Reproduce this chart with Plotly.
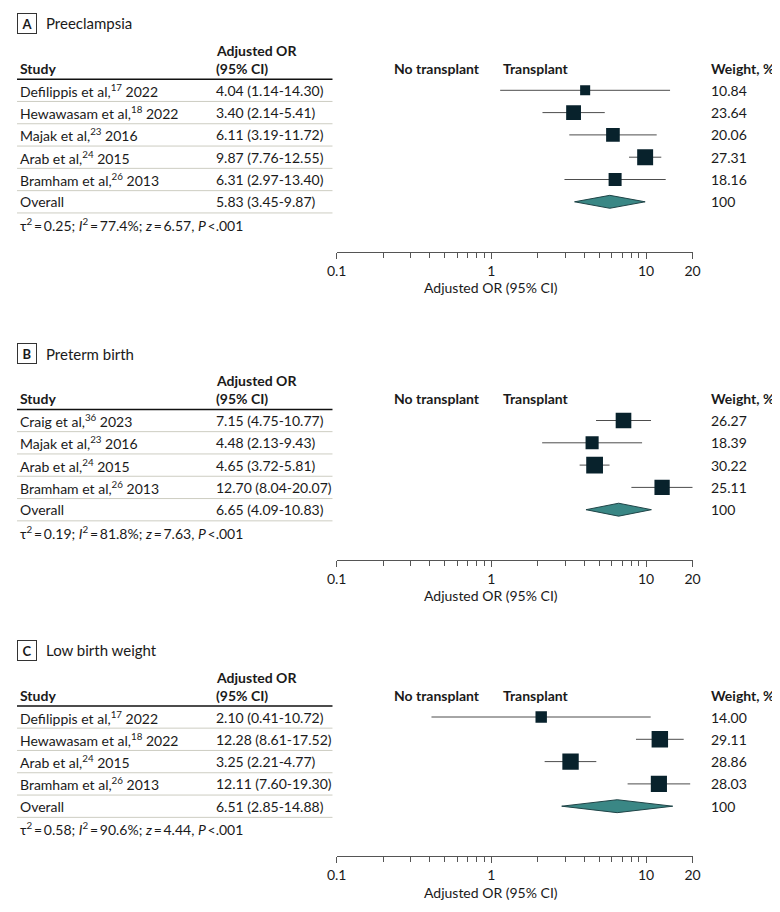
import math
import plotly.graph_objects as go

# ---------------- data ----------------
A_STUDIES = ["Defilippis et al,<sup>17</sup> 2022", "Hewawasam et al,<sup>18</sup> 2022",
             "Majak et al,<sup>23</sup> 2016", "Arab et al,<sup>24</sup> 2015",
             "Bramham et al,<sup>26</sup> 2013"]
A_OR = [4.04, 3.40, 6.11, 9.87, 6.31]
A_LO = [1.14, 2.14, 3.19, 7.76, 2.97]
A_HI = [14.30, 5.41, 11.72, 12.55, 13.40]
A_WEIGHT = [10.84, 23.64, 20.06, 27.31, 18.16]
A_OVERALL = [5.83, 3.45, 9.87]
A_STATS = "τ<sup>2</sup>\u2009=\u20090.25; <i>I</i><sup>2</sup>\u2009=\u200977.4%; <i>z</i>\u2009=\u20096.57, <i>P</i>\u2009&lt;.001"

B_STUDIES = ["Craig et al,<sup>36</sup> 2023", "Majak et al,<sup>23</sup> 2016",
             "Arab et al,<sup>24</sup> 2015", "Bramham et al,<sup>26</sup> 2013"]
B_OR = [7.15, 4.48, 4.65, 12.70]
B_LO = [4.75, 2.13, 3.72, 8.04]
B_HI = [10.77, 9.43, 5.81, 20.07]
B_WEIGHT = [26.27, 18.39, 30.22, 25.11]
B_OVERALL = [6.65, 4.09, 10.83]
B_STATS = "τ<sup>2</sup>\u2009=\u20090.19; <i>I</i><sup>2</sup>\u2009=\u200981.8%; <i>z</i>\u2009=\u20097.63, <i>P</i>\u2009&lt;.001"

C_STUDIES = ["Defilippis et al,<sup>17</sup> 2022", "Hewawasam et al,<sup>18</sup> 2022",
             "Arab et al,<sup>24</sup> 2015", "Bramham et al,<sup>26</sup> 2013"]
C_OR = [2.10, 12.28, 3.25, 12.11]
C_LO = [0.41, 8.61, 2.21, 7.60]
C_HI = [10.72, 17.52, 4.77, 19.30]
C_WEIGHT = [14.00, 29.11, 28.86, 28.03]
C_OVERALL = [6.51, 2.85, 14.88]
C_STATS = "τ<sup>2</sup>\u2009=\u20090.58; <i>I</i><sup>2</sup>\u2009=\u200990.6%; <i>z</i>\u2009=\u20094.44, <i>P</i>\u2009&lt;.001"

PANELS = [
    dict(letter="A", title="Preeclampsia", studies=A_STUDIES, ors=A_OR, lo=A_LO, hi=A_HI,
         w=A_WEIGHT, overall=A_OVERALL, stats=A_STATS, first=90.3),
    dict(letter="B", title="Preterm birth", studies=B_STUDIES, ors=B_OR, lo=B_LO, hi=B_HI,
         w=B_WEIGHT, overall=B_OVERALL, stats=B_STATS, first=420.5),
    dict(letter="C", title="Low birth weight", studies=C_STUDIES, ors=C_OR, lo=C_LO, hi=C_HI,
         w=C_WEIGHT, overall=C_OVERALL, stats=C_STATS, first=717.0),
]

MAJOR_TICKS = [0.1, 1, 10, 20]
MAJOR_LABELS = ["0.1", "1", "10", "20"]
MINOR_TICKS = [0.2, 0.3, 0.4, 0.5, 0.6, 0.7, 0.8, 0.9, 2, 3, 4, 5, 6, 7, 8, 9]

# ---------------- layout constants ----------------
OFF = 8                      # default page margin of the html body
W, H = 780 - OFF, 912 - OFF
ROW = 22.3
X0_PX, X1_PX = 334.3, 698.7
FONT = "Lato"
TXT = "#1a1a1a"
FS = 14

COL_STUDY, COL_OR, COL_NO, COL_TR, COL_W = 8, 209, 483, 503, 715
TABLE_L, TABLE_R = 7, 330


def px(x):
    return (x - OFF) / W


def py(y):
    return 1 - (y - OFF) / H


fig = go.Figure()
annotations = []
shapes = []
layout_axes = {}

for k, p in enumerate(PANELS, start=1):
    xa = "x" if k == 1 else f"x{k}"
    ya = "y" if k == 1 else f"y{k}"
    xkey = "xaxis" if k == 1 else f"xaxis{k}"
    ykey = "yaxis" if k == 1 else f"yaxis{k}"
    n = len(p["studies"])
    first = p["first"]
    axis_px = first + n * ROW + 50
    top_px = first - 28
    rows = list(range(n))

    layout_axes[ykey] = dict(
        domain=[py(axis_px), py(top_px)],
        range=[(axis_px - first) / ROW, -(first - top_px) / ROW],
        showticklabels=False, showline=False, showgrid=False, zeroline=False,
        ticks="", fixedrange=True, anchor=xa,
    )
    layout_axes[xkey] = dict(
        domain=[px(X0_PX), px(X1_PX)], type="log",
        range=[math.log10(0.1), math.log10(20)],
        anchor=ya, side="bottom", showline=True, linecolor="#555", linewidth=1,
        showgrid=False, zeroline=False,
        tickmode="array", tickvals=MAJOR_TICKS, ticktext=MAJOR_LABELS,
        ticks="outside", ticklen=6, tickcolor="#555", tickwidth=1,
        tickfont=dict(family=FONT, size=FS, color=TXT),
        minor=dict(tickvals=MINOR_TICKS, ticks="outside", ticklen=5,
                   tickcolor="#555", tickwidth=1, showgrid=False),
        fixedrange=True,
    )

    # CI lines
    cx, cy = [], []
    for i in rows:
        cx += [p["lo"][i], p["hi"][i], None]
        cy += [i, i, None]
    fig.add_trace(go.Scatter(x=cx, y=cy, mode="lines", xaxis=xa, yaxis=ya,
                             line=dict(color="#4d4d4d", width=1), hoverinfo="skip",
                             showlegend=False))
    # squares
    fig.add_trace(go.Scatter(x=p["ors"], y=rows, mode="markers", xaxis=xa, yaxis=ya,
                             marker=dict(symbol="square", color="#08222c", opacity=1,
                                         size=[3.05 * math.sqrt(w) for w in p["w"]],
                                         line=dict(width=0)),
                             showlegend=False))
    # diamond
    est, lo, hi = p["overall"]
    fig.add_trace(go.Scatter(x=[lo, est, hi, est, lo], y=[n, n - 0.29, n, n + 0.29, n],
                             mode="lines", fill="toself", fillcolor="#3a8785",
                             line=dict(color="#1f4447", width=1), xaxis=xa, yaxis=ya,
                             hoverinfo="skip", showlegend=False))

    # dotted null line
    shapes.append(dict(type="line", xref=xa, yref=f"{ya} domain", x0=0, x1=0, y0=0, y1=1,
                       line=dict(color="#777", width=1, dash="dot")))

    # panel title
    annotations.append(dict(xref="paper", yref="paper", x=px(17), y=py(first - 67),
                            text=f"<b>{p['letter']}</b>", showarrow=False,
                            font=dict(family=FONT, size=13, color=TXT),
                            bordercolor="#333", borderwidth=1, borderpad=2,
                            width=14, height=15, xanchor="center", yanchor="middle"))
    annotations.append(dict(xref="paper", yref="paper", x=px(35), y=py(first - 67),
                            text=p["title"], showarrow=False, xanchor="left", yanchor="middle",
                            font=dict(family=FONT, size=15, color=TXT)))
    # headers
    hdr = dict(family=FONT, size=FS, color=TXT)
    annotations += [
        dict(xref="paper", yref="paper", x=px(COL_OR), y=py(first - 40), text="<b>Adjusted OR</b>",
             showarrow=False, xanchor="left", yanchor="middle", font=hdr),
        dict(xref="paper", yref="paper", x=px(COL_OR), y=py(first - 22), text="<b>(95% CI)</b>",
             showarrow=False, xanchor="left", yanchor="middle", font=hdr),
        dict(xref="paper", yref="paper", x=px(COL_STUDY), y=py(first - 22), text="<b>Study</b>",
             showarrow=False, xanchor="left", yanchor="middle", font=hdr),
        dict(xref="paper", yref="paper", x=px(COL_NO), y=py(first - 22), text="<b>No transplant</b>",
             showarrow=False, xanchor="right", yanchor="middle", font=hdr),
        dict(xref="paper", yref="paper", x=px(COL_TR), y=py(first - 22), text="<b>Transplant</b>",
             showarrow=False, xanchor="left", yanchor="middle", font=hdr),
        dict(xref="paper", yref="paper", x=px(COL_W), y=py(first - 22), text="<b>Weight, %</b>",
             showarrow=False, xanchor="left", yanchor="middle", font=hdr),
    ]
    shapes.append(dict(type="line", xref="paper", yref="paper", x0=px(TABLE_L), x1=px(TABLE_R),
                       y0=py(first - 11), y1=py(first - 11), line=dict(color="#111", width=1.6)))

    body = dict(family=FONT, size=FS, color=TXT)
    labels = p["studies"] + ["Overall"]
    ortxt = [f"{o:.2f} ({l:.2f}-{h:.2f})" for o, l, h in zip(p["ors"], p["lo"], p["hi"])]
    ortxt.append(f"{est:.2f} ({lo:.2f}-{hi:.2f})")
    wtxt = [f"{w:.2f}" for w in p["w"]] + ["100"]
    for i in range(n + 1):
        annotations += [
            dict(xref="paper", yref=ya, x=px(COL_STUDY), y=i, text=labels[i], showarrow=False,
                 xanchor="left", yanchor="middle", font=body),
            dict(xref="paper", yref=ya, x=px(COL_OR), y=i, text=ortxt[i], showarrow=False,
                 xanchor="left", yanchor="middle", font=body),
            dict(xref="paper", yref=ya, x=px(COL_W), y=i, text=wtxt[i], showarrow=False,
                 xanchor="left", yanchor="middle", font=body),
        ]
        shapes.append(dict(type="line", xref="paper", yref=ya, x0=px(TABLE_L), x1=px(TABLE_R),
                           y0=i + 0.5, y1=i + 0.5, line=dict(color="#cdcdc2", width=1)))
    annotations.append(dict(xref="paper", yref=ya, x=px(COL_STUDY), y=n + 1, text=p["stats"],
                            showarrow=False, xanchor="left", yanchor="middle", font=body))
    # axis title centred on OR = 1
    annotations.append(dict(xref=xa, yref="paper", x=math.log10(1), y=py(axis_px + 36),
                            text="Adjusted OR (95% CI)", showarrow=False, xanchor="center",
                            yanchor="middle", font=body))

fig.update_layout(
    width=W, height=H, margin=dict(l=0, r=0, t=0, b=0),
    paper_bgcolor="white", plot_bgcolor="white",
    annotations=annotations, shapes=shapes, showlegend=False,
    font=dict(family=FONT, size=FS, color=TXT),
    **layout_axes,
)

fig.write_html("out.html")
